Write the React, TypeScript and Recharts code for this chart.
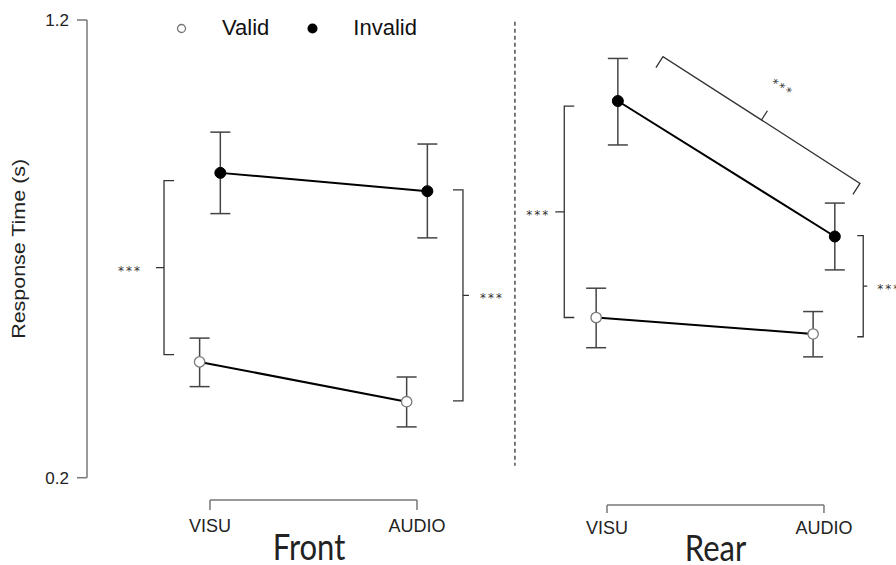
import React from 'react'
import { LineChart, Line, XAxis, YAxis, ErrorBar, ReferenceLine, Legend, Label } from 'recharts'

// categories and series
const conditions = ['VISU', 'AUDIO']
const seriesNames = ['Valid', 'Invalid']
const yTicks = [0.2, 1.2]

// mean response times (s) and error bar bounds, Front panel
const frontValid = [0.453, 0.366]
const frontValidLow = [0.399, 0.311]
const frontValidHigh = [0.505, 0.42]
const frontInvalid = [0.866, 0.826]
const frontInvalidLow = [0.777, 0.724]
const frontInvalidHigh = [0.955, 0.929]

// Rear panel
const rearValid = [0.55, 0.514]
const rearValidLow = [0.484, 0.464]
const rearValidHigh = [0.614, 0.563]
const rearInvalid = [1.023, 0.727]
const rearInvalidLow = [0.927, 0.654]
const rearInvalidHigh = [1.116, 0.8]

const DODGE = 0.05
const SANS = 'Liberation Sans, Arial, sans-serif'
const AXIS = '#777'
const INK = '#333'

const toRows = (mean: number[], low: number[], high: number[], shift: number) =>
  conditions.map((c, i) => ({
    cond: c,
    pos: i + shift,
    rt: mean[i],
    err: [mean[i] - low[i], high[i] - mean[i]],
  }))

const frontValidRows = toRows(frontValid, frontValidLow, frontValidHigh, -DODGE)
const frontInvalidRows = toRows(frontInvalid, frontInvalidLow, frontInvalidHigh, DODGE)
const rearValidRows = toRows(rearValid, rearValidLow, rearValidHigh, -DODGE)
const rearInvalidRows = toRows(rearInvalid, rearInvalidLow, rearInvalidHigh, DODGE)

const validDot = { r: 5.2, fill: '#fff', stroke: '#777', strokeWidth: 1.3 }
const invalidDot = { r: 5.5, fill: '#000', stroke: '#000', strokeWidth: 1 }

// significance brackets, in data units
function Bracket(props: any) {
  const { x1, y1, x2, y2, arm, tip, side, gap, rotate } = props
  const len = Math.hypot(x2 - x1, y2 - y1)
  const dx = (x2 - x1) / len
  const dy = (y2 - y1) / len
  const nx = -dy * side
  const ny = dx * side
  const mx = (x1 + x2) / 2
  const my = (y1 + y2) / 2
  const d = `M${x1 + nx * arm},${y1 + ny * arm} L${x1},${y1} L${x2},${y2} L${x2 + nx * arm},${y2 + ny * arm} M${mx},${my} L${mx - nx * tip},${my - ny * tip}`
  const tx = mx - nx * (tip + gap)
  const ty = my - ny * (tip + gap)
  const angle = (Math.atan2(dy, dx) * 180) / Math.PI
  return (
    <g>
      <path d={d} fill="none" stroke={INK} strokeWidth={1.3} />
      <text
        x={tx}
        y={ty}
        dy={7}
        textAnchor={rotate ? 'middle' : nx > 0 ? 'end' : 'start'}
        transform={rotate ? `rotate(${angle}, ${tx}, ${ty})` : undefined}
        fontFamily="DejaVu Sans, sans-serif"
        fontSize={12}
        letterSpacing={2}
        fill="#333"
      >
        ***
      </text>
    </g>
  )
}

const frontBrackets = [
  { seg: [{ x: -0.222, y: 0.849 }, { x: -0.222, y: 0.469 }], arm: 10, tip: 8, side: -1, gap: 14 },
  { seg: [{ x: 1.222, y: 0.829 }, { x: 1.222, y: 0.368 }], arm: 10, tip: 6, side: 1, gap: 11 },
]
const rearBrackets = [
  { seg: [{ x: -0.197, y: 1.012 }, { x: -0.197, y: 0.55 }], arm: 10, tip: 9, side: -1, gap: 5 },
  { seg: [{ x: 1.181, y: 0.729 }, { x: 1.181, y: 0.508 }], arm: 6, tip: 4, side: 1, gap: 10 },
  { seg: [{ x: 0.258, y: 1.12 }, { x: 1.166, y: 0.843 }], arm: 13, tip: 11, side: 1, gap: 30, rotate: true },
]

const HEIGHT = 565
const TOP = 20
const AXIS_H = 87.3

const front = {
  left: 0, width: 517, marginLeft: 0, yWidth: 87,
  domain: [-0.594, 1.483] as [number, number],
  title: 'Front', bracketDy: 22.3, tickLen: 10, labelDy: 54, titleDy: 82.3, titleDx: -4.5,
}
const rear = {
  left: 517, width: 379, marginLeft: 3, yWidth: 0,
  domain: [-0.401, 1.332] as [number, number],
  title: 'Rear', bracketDy: 27.3, tickLen: 8, labelDy: 56.5, titleDy: 83, titleDx: 0,
}

function makeTick(cfg: any) {
  const plotW = cfg.width - cfg.marginLeft - cfg.yWidth
  const unit = plotW / (cfg.domain[1] - cfg.domain[0])
  return (props: any) => {
    const { x, y, payload } = props
    const first = payload.value === 0
    const by = y + cfg.bracketDy
    const tx = x + unit / 2 + cfg.titleDx
    const ty = y + cfg.titleDy
    return (
      <g>
        <line x1={x} y1={by} x2={x} y2={by + cfg.tickLen} stroke={AXIS} strokeWidth={1.5} />
        {first && <line x1={x} y1={by} x2={x + unit} y2={by} stroke={AXIS} strokeWidth={1.5} />}
        <text x={x} y={y + cfg.labelDy} textAnchor="middle" fontFamily={SANS} fontSize={18} fill="#222">
          {conditions[payload.value]}
        </text>
        {first && (
          <text
            x={0}
            y={0}
            transform={`translate(${tx}, ${ty}) scale(1, 1.16)`}
            textAnchor="middle"
            fontFamily="Lato, sans-serif"
            fontSize={31}
            fill="#222"
          >
            {cfg.title}
          </text>
        )}
      </g>
    )
  }
}

function renderLegend(props: any) {
  const items = [...(props.payload || [])].sort(
    (a: any, b: any) => seriesNames.indexOf(a.value) - seriesNames.indexOf(b.value)
  )
  return (
    <div style={{ display: 'flex', alignItems: 'center', paddingLeft: 176, paddingTop: 14, fontFamily: SANS, fontSize: 22, color: '#111' }}>
      {items.map((entry: any) => {
        const open = entry.value === seriesNames[0]
        return (
          <div key={entry.value} style={{ display: 'flex', alignItems: 'center', marginRight: open ? 38 : 0 }}>
            <svg width={11} height={11} style={{ marginRight: 35 }}>
              {open ? (
                <circle cx={5.5} cy={5.5} r={4} fill="#fff" stroke="#777" strokeWidth={1.3} />
              ) : (
                <circle cx={5.5} cy={5.5} r={5} fill="#000" />
              )}
            </svg>
            <span style={{ lineHeight: '28px' }}>{entry.value}</span>
          </div>
        )
      })}
    </div>
  )
}

function YTitle(props: any) {
  const { viewBox } = props
  const x = viewBox.x + 19
  const y = viewBox.y + viewBox.height / 2
  return (
    <text
      x={x}
      y={y}
      transform={`rotate(-90, ${x}, ${y})`}
      textAnchor="middle"
      dominantBaseline="central"
      fontFamily={SANS}
      fontSize={19}
      textLength={180}
      lengthAdjust="spacingAndGlyphs"
      fill="#222"
    >
      Response Time (s)
    </text>
  )
}

function Panel({ cfg, validRows, invalidRows, brackets, withAxis }: any) {
  return (
    <div style={{ position: 'absolute', left: cfg.left, top: 0 }}>
      <LineChart width={cfg.width} height={HEIGHT} margin={{ top: TOP, right: 0, bottom: 0, left: cfg.marginLeft }}>
        <XAxis
          dataKey="pos"
          type="number"
          domain={cfg.domain}
          ticks={[0, 1]}
          interval={0}
          height={AXIS_H}
          axisLine={false}
          tickLine={false}
          tickSize={0}
          tickMargin={0}
          tick={makeTick(cfg)}
        />
        <YAxis
          type="number"
          domain={[0.2, 1.2]}
          ticks={yTicks}
          hide={!withAxis}
          width={cfg.yWidth}
          tickSize={10}
          tickMargin={8}
          axisLine={{ stroke: AXIS, strokeWidth: 1.5 }}
          tickLine={{ stroke: AXIS, strokeWidth: 1.5 }}
          tick={{ fontFamily: SANS, fontSize: 17, fill: '#222' }}
          tickFormatter={(v: number) => v.toFixed(1)}
        >
          {withAxis && <Label content={YTitle} />}
        </YAxis>
        {withAxis && (
          <Legend
            layout="horizontal"
            verticalAlign="middle"
            align="center"
            wrapperStyle={{ top: 0, left: 0, width: 500, height: 50 }}
            content={renderLegend}
          />
        )}
        {withAxis && (
          <ReferenceLine
            segment={[{ x: 1.473, y: 1.196 }, { x: 1.473, y: 0.226 }]}
            ifOverflow="visible"
            stroke="#222"
            strokeWidth={1.2}
            strokeDasharray="4 3"
          />
        )}
        {brackets.map((b: any, i: number) => (
          <ReferenceLine
            key={i}
            segment={b.seg}
            ifOverflow="visible"
            shape={(p: any) => <Bracket {...p} {...b} />}
          />
        ))}
        <Line
          name={seriesNames[0]}
          data={validRows}
          dataKey="rt"
          stroke="#000"
          strokeWidth={2}
          dot={validDot}
          activeDot={false}
          isAnimationActive={false}
        >
          <ErrorBar dataKey="err" width={10} stroke="#444" strokeWidth={1.5} direction="y" isAnimationActive={false} />
        </Line>
        <Line
          name={seriesNames[1]}
          data={invalidRows}
          dataKey="rt"
          stroke="#000"
          strokeWidth={2}
          dot={invalidDot}
          activeDot={false}
          isAnimationActive={false}
        >
          <ErrorBar dataKey="err" width={10} stroke="#444" strokeWidth={1.5} direction="y" isAnimationActive={false} />
        </Line>
      </LineChart>
    </div>
  )
}

export default function App() {
  return (
    <div style={{ position: 'absolute', left: 0, top: 0, width: 896, height: HEIGHT, background: '#fff', overflow: 'hidden' }}>
      <Panel cfg={front} validRows={frontValidRows} invalidRows={frontInvalidRows} brackets={frontBrackets} withAxis />
      <Panel cfg={rear} validRows={rearValidRows} invalidRows={rearInvalidRows} brackets={rearBrackets} withAxis={false} />
    </div>
  )
}
